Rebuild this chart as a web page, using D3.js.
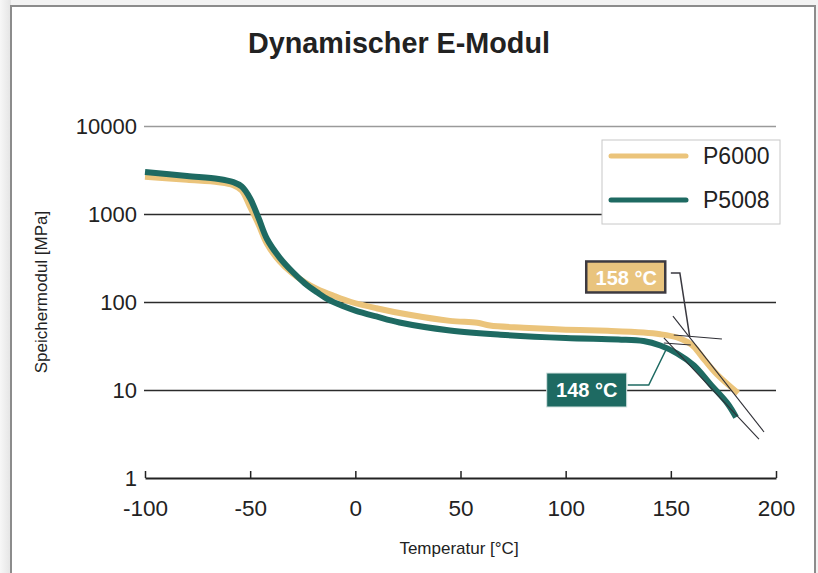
<!DOCTYPE html>
<html>
<head>
<meta charset="utf-8">
<title>Dynamischer E-Modul</title>
<script src="https://cdn.jsdelivr.net/npm/d3@7"></script>
<style>
  html, body { margin: 0; padding: 0; background: #f3f3f3; }
  svg { display: block; font-family: "Liberation Sans", Arial, Helvetica, sans-serif; }
</style>
</head>
<body>
<svg id="chart" width="818" height="573"></svg>
<script>
// temperatures [°C] and storage modulus [MPa]
const p6000Temp = [-100, -80, -65, -58, -54, -50, -46, -42, -36, -30, -24, -18, -10, -2, 10, 25, 45, 58, 64, 80, 100, 120, 137, 145, 153, 158, 161, 166, 172, 182];
const p6000Mod  = [2650, 2450, 2300, 2130, 1850, 1200, 760, 460, 290, 212, 168, 140, 117, 100, 85, 72, 61, 58, 54, 51, 48.5, 47, 45, 43, 39.5, 35, 31, 22, 15, 9.2];
const p5008Temp = [-100, -80, -65, -58, -54, -50, -46, -42, -36, -30, -24, -18, -13, -6, 0, 10, 21, 45, 69, 100, 125, 137, 145, 153, 161, 169, 177, 181];
const p5008Mod  = [3000, 2700, 2500, 2300, 2050, 1500, 900, 520, 320, 222, 163, 128, 107, 90, 80, 68.5, 58.5, 47.5, 42.5, 39, 37.5, 36, 32, 26, 19, 11.5, 7, 4.9];

const xTicks = [-100, -50, 0, 50, 100, 150, 200];
const yTicks = [1, 10, 100, 1000, 10000];
const seriesNames = ["P6000", "P5008"];
const seriesColors = ["#ebc47b", "#1e6a62"];

// tangent constructions [temp, modulus] and label positions
const p6000Tangents = [[[151.4, 42.2], [174.3, 38.0]], [[151, 69], [194.3, 3.33]]];
const p5008Tangents = [[[146.7, 34.2], [159.5, 32.5]], [[146.7, 39], [191.9, 2.77]]];
const p6000Leader = [[150, 213], [154.3, 213], [159, 40]];
const p5008Leader = [[129.5, 11.4], [139.5, 11.4], [148.1, 30]];
const labelTexts = ["158 °C", "148 °C"];
const labelAnchors = [[128.8, 190], [110, 10]];

const svg = d3.select("#chart");

// page frame
const defs = svg.append("defs");
const grad = defs.append("linearGradient").attr("id", "shade").attr("x1", 0).attr("x2", 1);
grad.append("stop").attr("offset", 0).attr("stop-color", "#f7f7f7");
grad.append("stop").attr("offset", 1).attr("stop-color", "#e4e4e4");
svg.append("rect").attr("x", 0).attr("y", 0).attr("width", 11).attr("height", 573).attr("fill", "url(#shade)");
svg.append("rect").attr("x", 11).attr("y", 6).attr("width", 804).attr("height", 580)
  .attr("fill", "#fff").attr("stroke", "#8c8c8c").attr("stroke-width", 2);

const x = d3.scaleLinear().domain([-100, 200]).range([145, 776]);
const y = d3.scaleLog().domain([1, 10000]).range([478, 126]);

// title
svg.append("text").attr("x", 399).attr("y", 53).attr("text-anchor", "middle")
  .attr("font-size", 29).attr("font-weight", "bold").attr("fill", "#222")
  .attr("textLength", 302).attr("lengthAdjust", "spacingAndGlyphs")
  .text("Dynamischer E-Modul");

// horizontal grid lines with labels
const yAxis = svg.append("g").attr("transform", "translate(144,0)")
  .call(d3.axisRight(y).tickValues(yTicks.slice(1)).tickSize(632).tickFormat(d => d));
yAxis.select(".domain").remove();
yAxis.selectAll(".tick line").attr("stroke", d => d === 10000 ? "#9a9a9a" : "#2b2b2b").attr("stroke-width", 1.5);
yAxis.selectAll(".tick text").attr("x", -7).attr("text-anchor", "end")
  .attr("font-size", 22).attr("fill", "#222").attr("font-family", "Liberation Sans, Arial, sans-serif");

// x axis (at value 1)
const xAxis = svg.append("g").attr("transform", `translate(0,${y(1)})`)
  .call(d3.axisTop(x).tickValues(xTicks).tickSize(7).tickSizeOuter(0).tickFormat(d => d));
xAxis.select(".domain").attr("stroke", "#222").attr("stroke-width", 2);
xAxis.selectAll(".tick line").attr("stroke", "#222").attr("stroke-width", 1.5);
xAxis.selectAll(".tick text").attr("y", 22).attr("dy", "0.71em").attr("font-size", 22.5)
  .attr("fill", "#222").attr("font-family", "Liberation Sans, Arial, sans-serif");
svg.append("text").attr("x", 137).attr("y", y(1)).attr("dy", "0.35em").attr("text-anchor", "end")
  .attr("font-size", 22).attr("fill", "#222").text("1");

// axis titles
svg.append("text").attr("x", 459).attr("y", 554).attr("text-anchor", "middle")
  .attr("font-size", 17).attr("fill", "#222").text("Temperatur [°C]");
svg.append("text").attr("transform", "translate(47,292) rotate(-90)").attr("text-anchor", "middle")
  .attr("font-size", 17).attr("fill", "#222").text("Speichermodul [MPa]");

// curves
const line = d3.line().x(d => x(d[0])).y(d => y(d[1])).curve(d3.curveCatmullRom.alpha(0.5));
const series = [d3.zip(p6000Temp, p6000Mod), d3.zip(p5008Temp, p5008Mod)];
svg.selectAll("path.curve").data(series).join("path").attr("class", "curve")
  .attr("d", line).attr("fill", "none")
  .attr("stroke", (d, i) => seriesColors[i]).attr("stroke-width", 6);

// tangents and leaders
const straight = d3.line().x(d => x(d[0])).y(d => y(d[1]));
svg.selectAll("path.tan").data(p6000Tangents.concat(p5008Tangents)).join("path").attr("class", "tan")
  .attr("d", straight).attr("fill", "none").attr("stroke", "#2f2f36").attr("stroke-width", 1.1);
svg.append("path").attr("d", straight(p6000Leader)).attr("fill", "none").attr("stroke", "#3a3940").attr("stroke-width", 1.5);
svg.append("path").attr("d", straight(p5008Leader)).attr("fill", "none").attr("stroke", seriesColors[1]).attr("stroke-width", 1.5);

// temperature labels
const boxes = svg.selectAll("g.lab").data(labelTexts).join("g").attr("class", "lab")
  .attr("transform", (d, i) => `translate(${x(labelAnchors[i][0])},${y(labelAnchors[i][1])})`);
boxes.append("rect").attr("x", -40).attr("y", (d, i) => i === 0 ? -16 : -17)
  .attr("width", (d, i) => i === 0 ? 79 : 80).attr("height", (d, i) => i === 0 ? 31 : 34)
  .attr("fill", (d, i) => i === 0 ? "#e9c47e" : "#1e6a62")
  .attr("stroke", (d, i) => i === 0 ? "#3d3a40" : "#d5e3e1")
  .attr("stroke-width", (d, i) => i === 0 ? 2.5 : 1);
boxes.append("text").attr("x", 0).attr("dy", "0.36em").attr("text-anchor", "middle")
  .attr("font-size", 20).attr("font-weight", "bold").attr("fill", "#fff").text(d => d);

// legend
const legend = svg.append("g").attr("transform", "translate(602,140)");
legend.append("rect").attr("width", 178).attr("height", 84).attr("fill", "#fff")
  .attr("stroke", "#c8c8c8").attr("stroke-width", 1);
const items = legend.selectAll("g.item").data(seriesNames).join("g").attr("class", "item")
  .attr("transform", (d, i) => `translate(0,${16 + i * 44})`);
items.append("line").attr("x1", 9).attr("x2", 84)
  .attr("stroke", (d, i) => seriesColors[i]).attr("stroke-width", 5).attr("stroke-linecap", "round");
items.append("text").attr("x", 101).attr("dy", "0.36em").attr("font-size", 23).attr("fill", "#222").text(d => d);
</script>
</body>
</html>
